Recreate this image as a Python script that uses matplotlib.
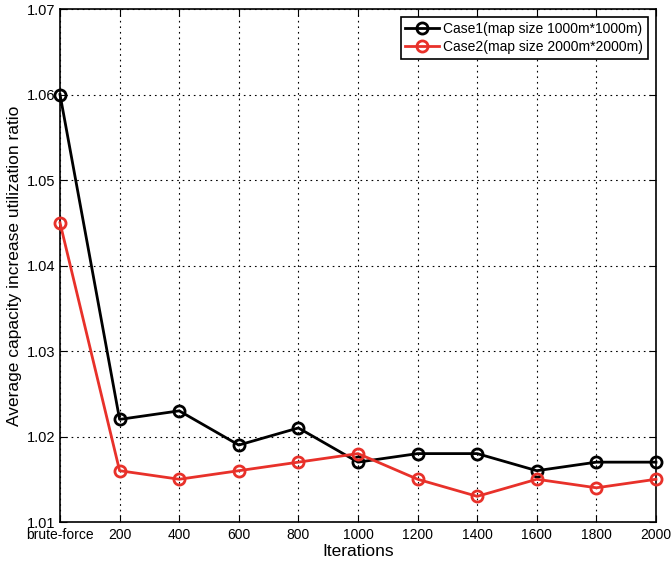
import matplotlib
matplotlib.use("Agg")
import matplotlib.pyplot as plt

plt.rcParams["font.family"] = ["Liberation Sans", "DejaVu Sans"]

x_labels = ["brute-force", "200", "400", "600", "800", "1000",
            "1200", "1400", "1600", "1800", "2000"]
case1 = [1.060, 1.022, 1.023, 1.019, 1.021, 1.017, 1.018, 1.018, 1.016, 1.017, 1.017]
case2 = [1.045, 1.016, 1.015, 1.016, 1.017, 1.018, 1.015, 1.013, 1.015, 1.014, 1.015]
y_ticks = [1.01, 1.02, 1.03, 1.04, 1.05, 1.06, 1.07]

fig = plt.figure(figsize=(6.72, 5.62), dpi=100)
ax = fig.add_axes([60 / 672, 1 - 522 / 562, 596 / 672, 513 / 562])

xs = list(range(len(x_labels)))
ax.plot(xs, case1, color="black", linewidth=2, marker="o", markersize=8,
        markerfacecolor="none", markeredgewidth=2,
        label="Case1(map size 1000m*1000m)", clip_on=False, zorder=3)
ax.plot(xs, case2, color="#e8312a", linewidth=2, marker="o", markersize=8,
        markerfacecolor="none", markeredgewidth=2,
        label="Case2(map size 2000m*2000m)", clip_on=False, zorder=3)

ax.set_xlim(0, len(x_labels) - 1)
ax.set_ylim(1.01, 1.07)
ax.set_xticks(xs)
ax.set_xticklabels(x_labels, fontsize=10)
ax.set_yticks(y_ticks)
ax.set_yticklabels([f"{v:.2f}" for v in y_ticks], fontsize=10.5)
ax.tick_params(direction="in", top=True, right=True, length=5, pad=3)
ax.tick_params(axis="x", pad=4)
ax.grid(True, color="black", linestyle=(0, (1.5, 3.5)), linewidth=0.8)
ax.set_axisbelow(True)
for spine in ax.spines.values():
    spine.set_linewidth(1.2)

ax.set_xlabel("Iterations", fontsize=12.5, labelpad=2)
ax.set_ylabel("Average capacity increase utilization ratio", fontsize=12.5, labelpad=4)

leg = ax.legend(loc="upper right", fontsize=10, fancybox=False, framealpha=1,
                edgecolor="black", borderpad=0.35, labelspacing=0.25,
                handlelength=2.4, handletextpad=0.3, borderaxespad=0.6)
leg.get_frame().set_linewidth(1.2)

fig.savefig("out.png", dpi=100)
